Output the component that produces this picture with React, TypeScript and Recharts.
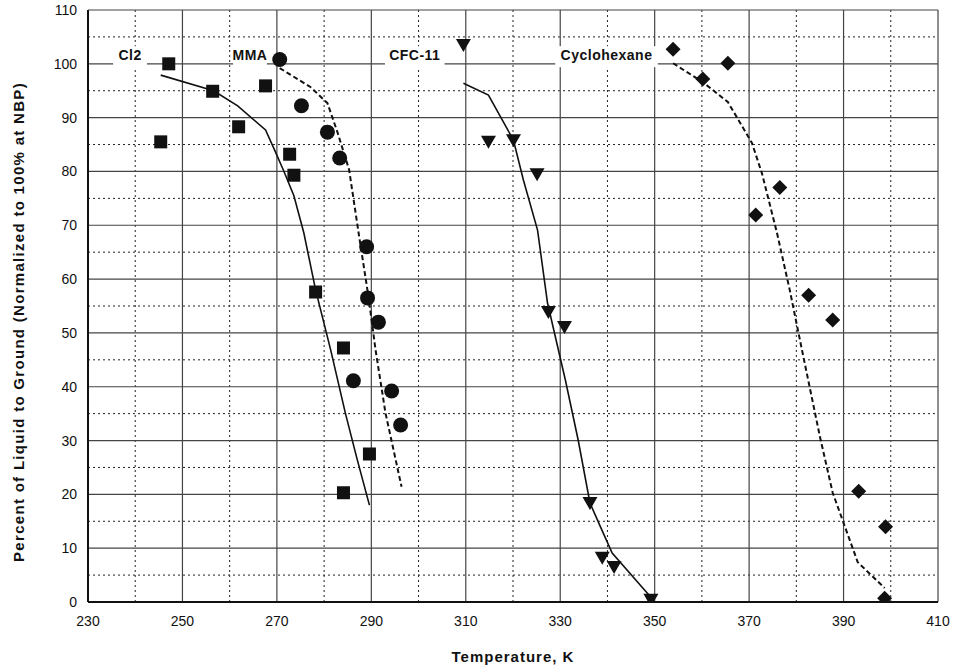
import React from 'react';
import {
  ComposedChart,
  Line,
  Scatter,
  XAxis,
  YAxis,
  CartesianGrid,
  ReferenceDot,
} from 'recharts';

// measured points (temperature K, percent)
const cl2T = [247.1, 256.4, 245.4, 261.9, 267.6, 272.7, 273.6, 278.2, 284.1, 289.6, 284.1];
const cl2P = [100, 94.9, 85.5, 88.3, 95.9, 83.2, 79.3, 57.6, 47.2, 27.5, 20.3];
const mmaT = [270.6, 275.2, 280.7, 283.3, 289.0, 289.2, 291.5, 286.2, 294.3, 296.2];
const mmaP = [100.8, 92.2, 87.3, 82.5, 66.0, 56.5, 52.0, 41.1, 39.2, 32.9];
const cfcT = [309.5, 314.8, 320.1, 325.1, 327.5, 330.9, 336.3, 338.9, 341.4, 349.2];
const cfcP = [103.5, 85.5, 85.8, 79.5, 53.9, 51.1, 18.4, 8.2, 6.5, 0.4];
const cycT = [353.9, 360.2, 365.5, 371.4, 376.5, 382.6, 387.7, 393.2, 398.9, 398.7];
const cycP = [102.7, 97.2, 100.1, 71.9, 77.0, 57.0, 52.4, 20.6, 14.0, 0.7];

// model curves
const cl2CurveT = [245.4, 256.6, 261.7, 267.6, 269.5, 271.5, 273.6, 275.7, 278.2, 281.4, 284.5, 287, 289.6];
const cl2CurveP = [97.9, 95, 92.2, 87.7, 84, 80, 75.5, 68.6, 58, 46.8, 35.1, 26.5, 18];
const mmaCurveT = [270.6, 277.1, 280.7, 282.9, 285.3, 287.3, 289.4, 290.9, 293, 296.4];
const mmaCurveP = [99.2, 95.7, 92.7, 87.1, 80.3, 68.6, 56.7, 46.8, 35.1, 21.4];
const cfcCurveT = [309.5, 314.8, 320.1, 322.2, 325.2, 327.3, 331.1, 333.8, 336.3, 338.5, 341, 349.2];
const cfcCurveP = [96.4, 94.2, 85.8, 78.4, 69.1, 55.6, 41.2, 30.1, 18.4, 14, 9.1, 0.9];
const cycCurveT = [353.9, 360.2, 365.5, 370.6, 372.7, 375.9, 378.6, 381.2, 385, 387.7, 390.7, 393, 398.7];
const cycCurveP = [100.1, 96.6, 92.9, 85.3, 79.7, 68.6, 58, 46.8, 30.7, 20.3, 13, 7.4, 2.6];

const seriesNames = ['Cl2', 'MMA', 'CFC-11', 'Cyclohexane'];
const nameT = [238.9, 264.3, 299.2, 339.8];
const nameP = [101.6, 101.6, 101.6, 101.6];

const xTicks = [230, 250, 270, 290, 310, 330, 350, 370, 390, 410];
const xMinor = [240, 260, 280, 300, 320, 340, 360, 380, 400];
const yTicks = [0, 10, 20, 30, 40, 50, 60, 70, 80, 90, 100, 110];
const yMinor = [5, 15, 25, 35, 45, 55, 65, 75, 85, 95, 105];

const zip = (t: number[], p: number[]) => t.map((x, i) => ({ x, y: p[i] }));

const FONT = '"Liberation Sans", Arial, sans-serif';
const INK = '#111';

const Square = (p: any) => <rect x={p.cx - 6.5} y={p.cy - 6.5} width={13} height={13} fill={INK} />;
const Circle = (p: any) => <circle cx={p.cx} cy={p.cy} r={7.5} fill={INK} />;
const TriDown = (p: any) => (
  <path d={`M${p.cx - 7.5},${p.cy - 6} L${p.cx + 7.5},${p.cy - 6} L${p.cx},${p.cy + 7} Z`} fill={INK} />
);
const Diamond = (p: any) => (
  <path d={`M${p.cx},${p.cy - 7.5} L${p.cx + 7.5},${p.cy} L${p.cx},${p.cy + 7.5} L${p.cx - 7.5},${p.cy} Z`} fill={INK} />
);

const nameTag = (text: string) => (p: any) => {
  const w = text.length * 8.6 + 8;
  return (
    <g>
      <rect x={p.cx - w / 2} y={p.cy - 9} width={w} height={21} fill="#fff" />
      <text x={p.cx} y={p.cy + 5} textAnchor="middle" fontFamily={FONT} fontSize={14} fontWeight="bold" letterSpacing={0.5} fill={INK}>
        {text}
      </text>
    </g>
  );
};

const YTitle = (props: any) => {
  const vb = props.viewBox;
  const cy = vb.y + vb.height / 2 + 16;
  return (
    <text x={18} y={cy} transform={`rotate(-90 18 ${cy})`} textAnchor="middle" dominantBaseline="central"
      fontFamily={FONT} fontSize={15} fontWeight="bold" letterSpacing={1.3} fill={INK}>
      Percent of Liquid to Ground (Normalized to 100% at NBP)
    </text>
  );
};

const XTitle = (props: any) => {
  const vb = props.viewBox;
  return (
    <text x={vb.x + vb.width / 2} y={662} textAnchor="middle"
      fontFamily={FONT} fontSize={15} fontWeight="bold" letterSpacing={1} fill={INK}>
      Temperature, K
    </text>
  );
};

export default function App() {
  const tickStyle = { fontFamily: FONT, fontSize: 14, fill: INK };
  return (
    <div style={{ position: 'absolute', left: 0, top: 0, width: 953, height: 668, background: '#fff' }}>
      <ComposedChart width={953} height={668} margin={{ top: 10, right: 15, bottom: 0, left: 0 }}>
        <CartesianGrid horizontalValues={yMinor} verticalValues={xMinor} stroke="#222" strokeDasharray="2 3" />
        <CartesianGrid horizontalValues={yTicks} verticalValues={xTicks} stroke="#444" strokeWidth={1.2} />
        <XAxis type="number" dataKey="x" domain={[230, 410]} ticks={xTicks} allowDataOverflow
          height={66} tickLine={false} tickMargin={8} tick={tickStyle}
          axisLine={{ stroke: INK, strokeWidth: 2 }} label={<XTitle />} />
        <YAxis type="number" dataKey="y" domain={[0, 110]} ticks={yTicks} allowDataOverflow
          width={88} tickLine={false} tickMargin={5} tick={tickStyle}
          axisLine={{ stroke: INK, strokeWidth: 2 }} label={<YTitle />} />
        {seriesNames.map((n, i) => (
          <ReferenceDot key={n} x={nameT[i]} y={nameP[i]} r={0} shape={nameTag(n)} />
        ))}
        <Line data={zip(cl2CurveT, cl2CurveP)} dataKey="y" type="linear" stroke={INK} strokeWidth={1.6} dot={false} isAnimationActive={false} />
        <Line data={zip(mmaCurveT, mmaCurveP)} dataKey="y" type="linear" stroke={INK} strokeWidth={2} strokeDasharray="5 3" dot={false} isAnimationActive={false} />
        <Line data={zip(cfcCurveT, cfcCurveP)} dataKey="y" type="linear" stroke={INK} strokeWidth={1.6} dot={false} isAnimationActive={false} />
        <Line data={zip(cycCurveT, cycCurveP)} dataKey="y" type="linear" stroke={INK} strokeWidth={2} strokeDasharray="5 3" dot={false} isAnimationActive={false} />
        <Scatter data={zip(cl2T, cl2P)} dataKey="y" shape={Square} isAnimationActive={false} />
        <Scatter data={zip(mmaT, mmaP)} dataKey="y" shape={Circle} isAnimationActive={false} />
        <Scatter data={zip(cfcT, cfcP)} dataKey="y" shape={TriDown} isAnimationActive={false} />
        <Scatter data={zip(cycT, cycP)} dataKey="y" shape={Diamond} isAnimationActive={false} />
      </ComposedChart>
    </div>
  );
}
